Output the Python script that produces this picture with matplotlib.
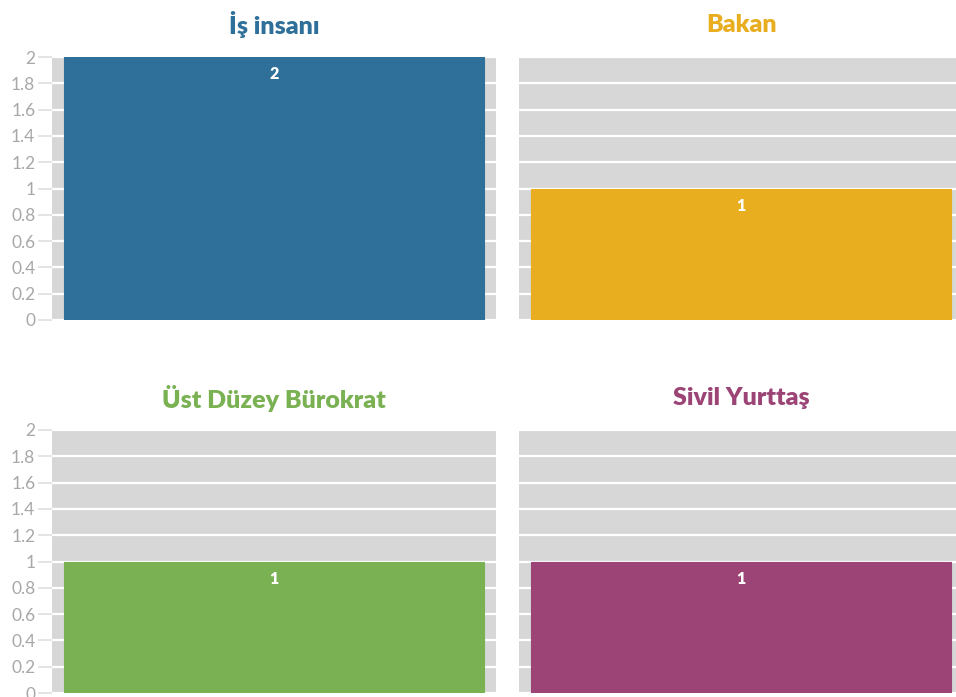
import matplotlib
matplotlib.use("Agg")
import matplotlib.pyplot as plt

titles = ["İş insanı", "Bakan", "Üst Düzey Bürokrat", "Sivil Yurttaş"]
values = [2, 1, 1, 1]
colors = ["#2e7099", "#e8ae20", "#7ab153", "#9b4475"]
yticks = [0, 0.2, 0.4, 0.6, 0.8, 1, 1.2, 1.4, 1.6, 1.8, 2]
ytick_labels = ["0", "0.2", "0.4", "0.6", "0.8", "1", "1.2", "1.4", "1.6", "1.8", "2"]

W, H = 956, 697
fig = plt.figure(figsize=(W / 100, H / 100), dpi=100)
fig.patch.set_facecolor("white")

# panel rectangles in pixels: (left, top, width, height)
panels = [(52, 57, 444, 263), (519, 57, 444, 263),
          (52, 430, 444, 263), (519, 430, 444, 263)]

for i, (title, val, col, (px, py, pw, ph)) in enumerate(zip(titles, values, colors, panels)):
    ax = fig.add_axes([px / W, 1 - (py + ph) / H, pw / W, ph / H])
    ax.set_facecolor("#d7d7d7")
    ax.set_xlim(-0.5, 0.5)
    ax.set_ylim(0, 2)
    ax.set_yticks(yticks)
    ax.grid(axis="y", color="white", linewidth=1.6)
    ax.set_axisbelow(True)
    for s in ax.spines.values():
        s.set_visible(False)
    ax.set_xticks([])
    if i % 2 == 0:
        ax.set_yticklabels(ytick_labels, fontsize=12.5, color="#a8a8a8", family="Lato")
        ax.tick_params(axis="y", length=10, width=1.4, color="#e4e4e4", pad=2)
    else:
        ax.set_yticklabels([])
        ax.tick_params(axis="y", length=0)
    ax.bar([0], [val], width=0.944, color=col, edgecolor=col, linewidth=0.8, zorder=3)
    ax.text(0, val - 0.13, str(val), ha="center", va="center", color="white",
            fontsize=11.5, fontweight="heavy", family="Lato", zorder=4)
    # title centred over the visible panel width
    cx = (px + pw / 2) if i % 2 == 0 else (px + (W - px) / 2 + 4)
    fig.text(cx / W, 1 - (py - 32) / H, title, ha="center", va="center",
             color=col, fontsize=18, fontweight="heavy", family="Lato")

fig.savefig("out.png", dpi=100)
